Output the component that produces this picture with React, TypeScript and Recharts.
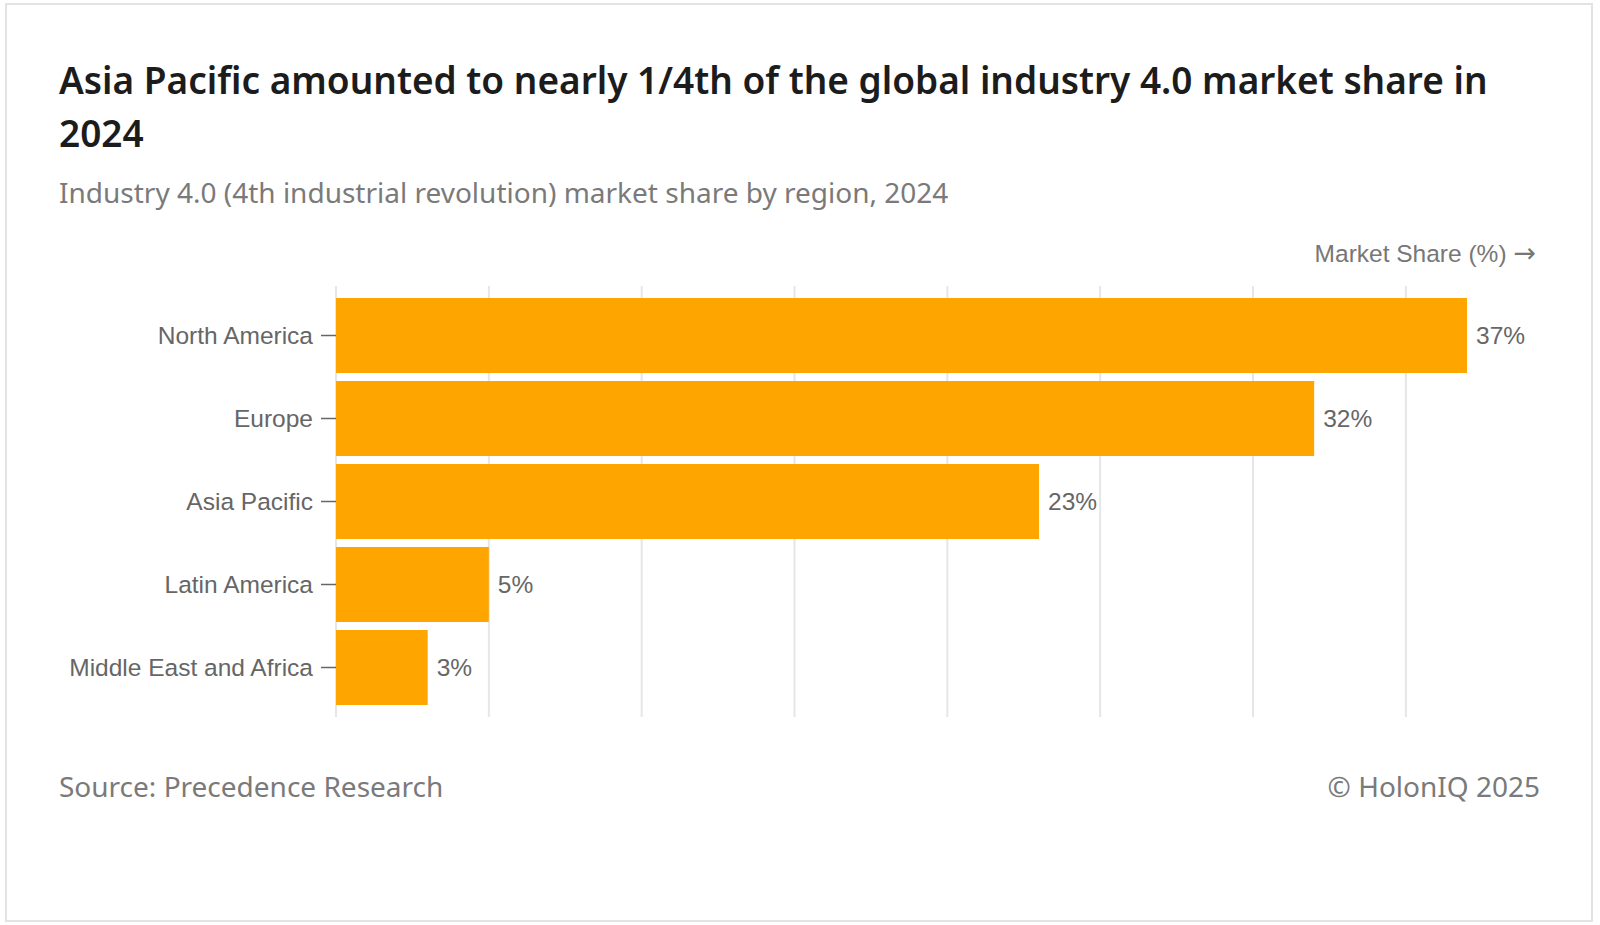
import React from "react";
import { BarChart, Bar, XAxis, YAxis, CartesianGrid, LabelList } from "recharts";

const regions = ["North America", "Europe", "Asia Pacific", "Latin America", "Middle East and Africa"];
const shares = [37, 32, 23, 5, 3];
const xTicks = [0, 5, 10, 15, 20, 25, 30, 35];

const data = regions.map((region, i) => ({ region, share: shares[i] }));

const uiFont = "'Noto Sans', 'Open Sans', sans-serif";
const axisFont = "'Liberation Sans', Arial, sans-serif";

const EmptyTick = () => <g />;

export default function App() {
  return (
    <div style={{ position: "absolute", left: 0, top: 0, width: 1600, height: 925, background: "#fff" }}>
      <div
        style={{
          position: "absolute",
          left: 5,
          top: 3,
          width: 1588,
          height: 919,
          boxSizing: "border-box",
          border: "2px solid #e3e3e3",
        }}
      />
      <div
        style={{
          position: "absolute",
          left: 59,
          top: 53,
          width: 1500,
          fontFamily: uiFont,
          fontWeight: 600,
          fontSize: 37,
          lineHeight: "53px",
          color: "#1c1c1c",
          whiteSpace: "nowrap",
        }}
      >
        Asia Pacific amounted to nearly 1/4th of the global industry 4.0 market share in
        <br />
        2024
      </div>
      <div
        style={{
          position: "absolute",
          left: 59,
          top: 178,
          fontFamily: uiFont,
          fontSize: 28,
          lineHeight: "28px",
          color: "#7a7a7a",
          whiteSpace: "nowrap",
        }}
      >
        Industry 4.0 (4th industrial revolution) market share by region, 2024
      </div>
      <div
        style={{
          position: "absolute",
          right: 1600 - 1536,
          top: 241,
          fontFamily: axisFont,
          fontSize: 24.5,
          lineHeight: "24px",
          color: "#777",
          whiteSpace: "nowrap",
        }}
      >
        Market Share (%){" "}
        <span style={{ fontFamily: "'DejaVu Sans', sans-serif", fontSize: 27 }}>→</span>
      </div>
      <div style={{ position: "absolute", left: 0, top: 240 }}>
        <BarChart
          width={1600}
          height={500}
          data={data}
          layout="vertical"
          margin={{ top: 46, right: 133, bottom: 23, left: 0 }}
        >
          <CartesianGrid horizontal={false} verticalValues={xTicks} stroke="#e6e6e6" strokeWidth={2} />
          <XAxis
            type="number"
            domain={[0, 37]}
            ticks={xTicks}
            tick={EmptyTick}
            axisLine={false}
            tickLine={false}
            height={0}
          />
          <YAxis
            type="category"
            dataKey="region"
            width={336}
            axisLine={false}
            tickSize={15}
            tickMargin={8}
            tickLine={{ stroke: "#666", strokeWidth: 1.5 }}
            tick={{ fill: "#666", fontSize: 24.5, fontFamily: axisFont }}
            padding={{ top: 8, bottom: 8 }}
          />
          <Bar dataKey="share" fill="#FFA500" barSize={75} isAnimationActive={false}>
            <LabelList
              dataKey="share"
              position="right"
              offset={9}
              formatter={(v: number) => `${v}%`}
              fill="#666"
              fontSize={24.5}
              fontFamily={axisFont}
            />
          </Bar>
        </BarChart>
      </div>
      <div
        style={{
          position: "absolute",
          left: 59,
          top: 772,
          fontFamily: uiFont,
          fontSize: 28,
          lineHeight: "28px",
          color: "#7a7a7a",
          whiteSpace: "nowrap",
        }}
      >
        Source: Precedence Research
      </div>
      <div
        style={{
          position: "absolute",
          right: 1600 - 1540,
          top: 772,
          fontFamily: uiFont,
          fontSize: 28,
          lineHeight: "28px",
          color: "#7a7a7a",
          whiteSpace: "nowrap",
        }}
      >
        © HolonIQ 2025
      </div>
    </div>
  );
}
